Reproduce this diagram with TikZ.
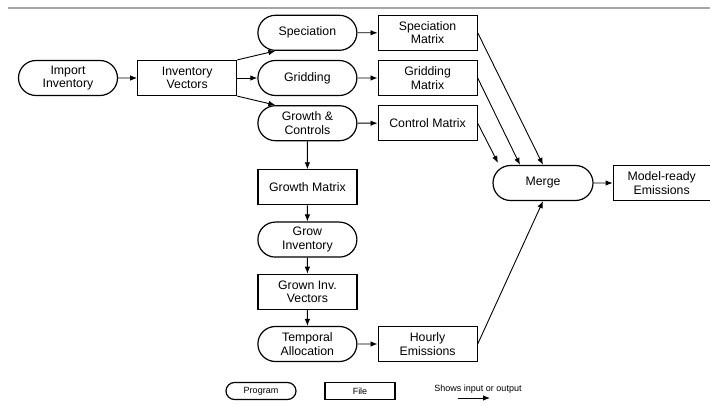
\documentclass[tikz,border=0pt]{standalone}
\usepackage{fontspec}
\setmainfont{Liberation Sans}
\usepackage{tikz}
\usetikzlibrary{arrows.meta,calc,shapes,shapes.misc,positioning}

\begin{document}
\begin{tikzpicture}[
            every node/.style={ minimum width=99pt, minimum height=35pt, inner sep=0pt, align=center,
                font=\fontsize{12.3}{13.4}\selectfont },
            prog/.style={ draw, line width=1.2pt, rounded rectangle, fill=white },
            file/.style={ draw, line width=1.2pt, rectangle, fill=white },
            flow/.style={ -{Latex[length=7pt,width=5.5pt]}, line width=0.9pt },
            node distance=9pt
        ]

        \useasboundingbox (0pt,0pt) rectangle (710pt,-406pt);
        \draw[black!35, line width=1.5pt] (8pt,-8pt) -- (710pt,-8pt);

        % main column
        \node[prog] (imp) at (68pt,-78pt) {Import\\Inventory};
        \node[file, right=19pt of imp] (vec) {Inventory\\Vectors};
        \node[prog, right=20pt of vec] (grid) {Gridding};
        \node[prog, above=9pt of grid] (spec) {Speciation};
        \node[prog, below=9pt of grid] (grow) {Growth \&\\Controls};
        \node[file, right=20pt of spec] (specmat) {Speciation\\Matrix};
        \node[file, right=20pt of grid] (gridmat) {Gridding\\Matrix};
        \node[file, right=20pt of grow] (ctlmat) {Control Matrix};
        \node[file, below=28pt of grow] (growmat) {Growth Matrix};
        \node[prog, below=16pt of growmat] (growinv) {Grow\\Inventory};
        \node[file, below=16pt of growinv] (grownvec) {Grown Inv.\\Vectors};
        \node[prog, below=16pt of grownvec] (temporal) {Temporal\\Allocation};
        \node[file, right=20pt of temporal] (hourly) {Hourly\\Emissions};
        \node[prog, minimum width=100pt] (merge) at (543pt,-183pt) {Merge};
        \node[file, minimum width=97pt, right=19pt of merge] (model) {Model-ready\\Emissions};

        \draw[flow] (imp) -- (vec);
        \draw[flow] (vec.north east) -- (spec.south west);
        \draw[flow] (vec) -- (grid);
        \draw[flow] (vec.south east) -- (grow.north west);
        \draw[flow] (spec) -- (specmat);
        \draw[flow] (grid) -- (gridmat);
        \draw[flow] (grow) -- (ctlmat);
        \draw[flow] (grow) -- (growmat);
        \draw[flow] (growmat) -- (growinv);
        \draw[flow] (growinv) -- (grownvec);
        \draw[flow] (grownvec) -- (temporal);
        \draw[flow] (temporal) -- (hourly);
        \draw[flow] (specmat.east) -- (merge.north);
        \draw[flow] (gridmat.east) -- ([xshift=-23pt]merge.north);
        \draw[flow] (ctlmat.east) -- ([xshift=-45pt,yshift=2pt]merge.north);
        \draw[flow] (hourly.east) -- (merge.south);
        \draw[flow] (merge) -- (model);

        % legend
        \node[prog, minimum width=70pt, minimum height=17pt, font=\fontsize{9}{10}\selectfont] (lprog) at (261pt,-391pt) {Program};
        \node[file, minimum width=70pt, minimum height=17pt, font=\fontsize{9}{10}\selectfont] (lfile) at (360pt,-391pt) {File};
        \node[minimum width=0pt, minimum height=0pt, font=\fontsize{9}{10}\selectfont] (ltext) at (478pt,-389pt) {Shows input or output};
        \coordinate (la) at (458pt,-398pt);
        \coordinate (lb) at (490pt,-398pt);
        \draw[flow] (la) -- (lb);
    \end{tikzpicture}
\end{document}
